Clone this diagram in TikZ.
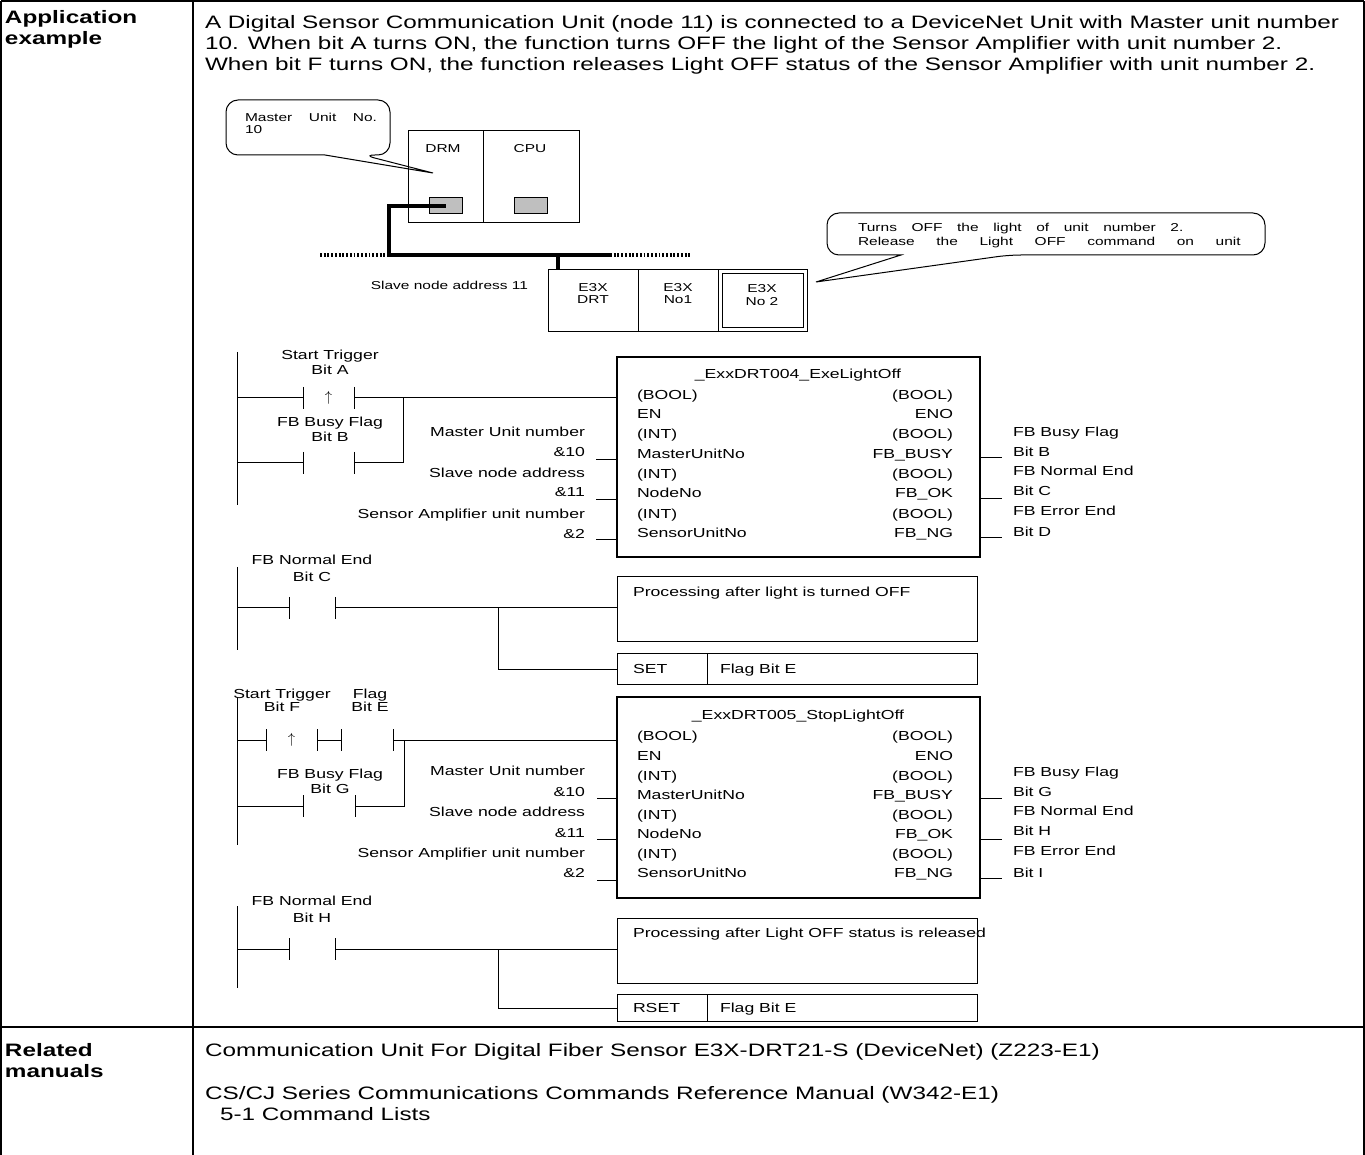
\documentclass[tikz,border=0pt]{standalone}
\usepackage{fontspec}
\setmainfont{Liberation Sans}
\newfontfamily\stf[FakeStretch=1.35]{Liberation Sans}
\usetikzlibrary{fit}
\newcommand\cbars[1]{\draw[wire] (#1.north west) -- (#1.south west) (#1.north east) -- (#1.south east);}
\begin{document}
\begin{tikzpicture}[x=0.75pt,y=-0.75pt,
  every node/.style={inner sep=0pt, outer sep=0pt},
  maintxt/.style={anchor=west, font=\stf\fontsize{13.5}{16}\selectfont, text height=9.7pt, text depth=0pt},
  headtxt/.style={anchor=west, font=\stf\bfseries\fontsize{13.5}{16}\selectfont, text height=9.7pt, text depth=0pt},
  dtxt/.style={font=\stf\fontsize{9.8}{12}\selectfont, text height=7pt, text depth=0pt},
  dl/.style={dtxt, anchor=west},
  dr/.style={dtxt, anchor=east},
  stxt/.style={font=\stf\fontsize{8.6}{10}\selectfont, text height=6.2pt, text depth=0pt},
  tbl/.style={line width=1.4pt},
  wire/.style={line width=0.75pt},
  fb/.style={draw, line width=1.9pt},
  plain/.style={draw, line width=0.75pt},
  cable/.style={line width=2.4pt},
  dotbus/.style={line width=2.4pt, dash pattern=on 1.4pt off 1.4pt},
  contact/.style={minimum width=#1*0.75pt, minimum height=16.5pt, font=\fontsize{11}{12}\selectfont},
  callout/.style={draw, line width=0.75pt},
]
\useasboundingbox (0,0) rectangle (1365,1155);

% ---------- table ----------
\draw[tbl] (1,1) -- (1364,1);
\draw[tbl] (1,1) -- (1,1155);
\draw[tbl] (1364,1) -- (1364,1155);
\draw[tbl] (193,1) -- (193,1155);
\draw[tbl] (1,1027) -- (1364,1027);

\node[headtxt] (h1) at (5,17) {Application};
\node[headtxt] (h2) at (5,38) {example};
\node[headtxt] (h3) at (5,1050) {Related};
\node[headtxt] (h4) at (5,1071) {manuals};

\node[maintxt] (t1) at (205,22) {A Digital Sensor Communication Unit (node 11) is connected to a DeviceNet Unit with Master unit number};
\node[maintxt] (t2) at (205,43) {10. When bit A turns ON, the function turns OFF the light of the Sensor Amplifier with unit number 2.};
\node[maintxt] (t3) at (205,64) {When bit F turns ON, the function releases Light OFF status of the Sensor Amplifier with unit number 2.};
\node[maintxt] (r1) at (205,1050) {Communication Unit For Digital Fiber Sensor E3X-DRT21-S (DeviceNet) (Z223-E1)};
\node[maintxt] (r2) at (205,1093) {CS/CJ Series Communications Commands Reference Manual (W342-E1)};
\node[maintxt] (r3) at (220,1114) {5-1 Command Lists};

% ---------- hardware ----------
\draw[callout] (363,155) -- (433,173) -- (325,155) [rounded corners=9] -- (226,155) -- (226,100) -- (390,100) -- (390,155) -- cycle;
\node[stxt, anchor=west] (c1a) at (245,117) {\makebox[99pt][s]{Master Unit No.}};
\node[stxt, anchor=west] (c1b) at (245,129) {10};

\node[plain, fit={(408,131) (483,223)}] (drm) {};
\node[plain, fit={(483,131) (579,223)}] (cpu) {};
\node[stxt] (drml) at (443,148) {DRM};
\node[stxt] (cpul) at (530,148) {CPU};
\node[plain, fill=black!25, fit={(429,198) (462,214)}] (drmport) {};
\node[plain, fill=black!25, fit={(514,198) (547,214)}] (cpuport) {};

\coordinate (bL) at (320,255);
\coordinate (bj) at (389,255);
\coordinate (bR) at (610,255);
\coordinate (bE) at (690,255);
\coordinate (drop) at (558,255);
\draw[cable] (drmport.center) -- (drmport.center -| bj) -- (bj) -- (bR);
\draw[dotbus] (bL) -- (bj);
\draw[dotbus] (bR) -- (bE);

\node[plain, fit={(548,270) (638,332)}] (drt) {};
\node[plain, fit={(638,270) (718,332)}] (no1) {};
\node[plain, fit={(718,270) (807,332)}] (no2) {};
\node[plain, fit={(722,274) (803,328)}] (no2i) {};
\draw[cable] (drop) -- (drop |- drt.north);
\node[stxt] (e1a) at (593,287) {E3X};
\node[stxt] (e1b) at (593,299) {DRT};
\node[stxt] (e2a) at (678,287) {E3X};
\node[stxt] (e2b) at (678,299) {No1};
\node[stxt] (e3a) at (762,288) {E3X};
\node[stxt] (e3b) at (762,301) {No 2};
\node[stxt, anchor=east] (sna) at (528,285) {Slave node address 11};

\draw[callout] (1009,255) -- (816,282) -- (901,255) [rounded corners=9] -- (827,255) -- (827,213) -- (1265,213) -- (1265,255) -- cycle;
\node[stxt, anchor=west] (c2a) at (858,227) {\makebox[244pt][s]{Turns OFF the light of unit number 2.}};
\node[stxt, anchor=west] (c2b) at (858,241) {\makebox[287pt][s]{Release the Light OFF command on unit}};

% ---------- ladder 1 ----------
\coordinate (r1t) at (237,352);
\coordinate (r1b) at (237,505);
\draw[wire] (r1t) -- (r1b);
\node[contact=51] (ca) at (328.5,398) {$\uparrow$};
\node[contact=51] (cb) at (328.5,463) {};
\cbars{ca}\cbars{cb}
\node[fb, fit={(617,357) (980,557)}] (fb1) {};
\coordinate (b1) at (403,398);
\draw[wire] (r1t |- ca) -- (ca.west);
\draw[wire] (ca.east) -- (ca.east -| fb1.west);
\draw[wire] (r1t |- cb) -- (cb.west);
\draw[wire] (cb.east) -- (b1 |- cb) -- (b1);
\node[dtxt] (la1) at (330,355) {Start Trigger};
\node[dtxt] (la2) at (330,370) {Bit A};
\node[dtxt] (lb1) at (330,422) {FB Busy Flag};
\node[dtxt] (lb2) at (330,437) {Bit B};

\node[dr] (i11) at (585,432) {Master Unit number};
\node[dr] (i12) at (585,452) {\&10};
\node[dr] (i13) at (585,473) {Slave node address};
\node[dr] (i14) at (585,492) {\&11};
\node[dr] (i15) at (585,514) {Sensor Amplifier unit number};
\node[dr] (i16) at (585,534) {\&2};
\coordinate (s11) at (596,460);
\coordinate (s12) at (596,500);
\coordinate (s13) at (596,540);
\draw[wire] (s11) -- (s11 -| fb1.west);
\draw[wire] (s12) -- (s12 -| fb1.west);
\draw[wire] (s13) -- (s13 -| fb1.west);

\node[dtxt] (f1t) at (798,374) {\_ExxDRT004\_ExeLightOff};
\node[dl] (f1l1) at (637,395) {(BOOL)};
\node[dl] (f1l2) at (637,414) {EN};
\node[dl] (f1l3) at (637,434) {(INT)};
\node[dl] (f1l4) at (637,454) {MasterUnitNo};
\node[dl] (f1l5) at (637,474) {(INT)};
\node[dl] (f1l6) at (637,493) {NodeNo};
\node[dl] (f1l7) at (637,514) {(INT)};
\node[dl] (f1l8) at (637,533) {SensorUnitNo};
\node[dr] (f1r1) at (953,395) {(BOOL)};
\node[dr] (f1r2) at (953,414) {ENO};
\node[dr] (f1r3) at (953,434) {(BOOL)};
\node[dr] (f1r4) at (953,454) {FB\_BUSY};
\node[dr] (f1r5) at (953,474) {(BOOL)};
\node[dr] (f1r6) at (953,493) {FB\_OK};
\node[dr] (f1r7) at (953,514) {(BOOL)};
\node[dr] (f1r8) at (953,533) {FB\_NG};

\coordinate (o11) at (1002,458);
\coordinate (o12) at (1002,499);
\coordinate (o13) at (1002,538);
\draw[wire] (o11 -| fb1.east) -- (o11);
\draw[wire] (o12 -| fb1.east) -- (o12);
\draw[wire] (o13 -| fb1.east) -- (o13);
\node[dl] (q11) at (1013,432) {FB Busy Flag};
\node[dl] (q12) at (1013,452) {Bit B};
\node[dl] (q13) at (1013,471) {FB Normal End};
\node[dl] (q14) at (1013,491) {Bit C};
\node[dl] (q15) at (1013,511) {FB Error End};
\node[dl] (q16) at (1013,532) {Bit D};

% ---------- ladder 2 (SET) ----------
\coordinate (r2t) at (237,567);
\coordinate (r2b) at (237,650);
\draw[wire] (r2t) -- (r2b);
\node[contact=46] (cc) at (312,608) {};
\cbars{cc}
\node[dtxt] (lc1) at (312,560) {FB Normal End};
\node[dtxt] (lc2) at (312,577) {Bit C};
\node[plain, fit={(617,577) (977,642)}] (p1) {};
\node[plain, fit={(617,653) (977,684)}] (set1) {};
\draw[wire] ([xshift=67.5pt]set1.north west) -- ([xshift=67.5pt]set1.south west);
\coordinate (b2) at (498,669);
\draw[wire] (r2t |- cc) -- (cc.west);
\draw[wire] (cc.east) -- (cc.east -| p1.west);
\draw[wire] (b2 |- cc) -- (b2) -- (b2 -| set1.west);
\node[dl] (p1t) at (633,592) {Processing after light is turned OFF};
\node[dl] (set1a) at (633,669) {SET};
\node[dl] (set1b) at (720,669) {Flag Bit E};

% ---------- ladder 3 ----------
\coordinate (r3t) at (237,698);
\coordinate (r3b) at (237,845);
\draw[wire] (r3t) -- (r3b);
\node[contact=51] (cf) at (291.5,740) {$\uparrow$};
\node[contact=52] (ce) at (367,740) {};
\node[contact=52] (cg) at (329,806) {};
\cbars{cf}\cbars{ce}\cbars{cg}
\node[fb, fit={(617,697) (980,898)}] (fb2) {};
\coordinate (b3) at (404,740);
\draw[wire] (r3t |- cf) -- (cf.west);
\draw[wire] (cf.east) -- (ce.west);
\draw[wire] (ce.east) -- (ce.east -| fb2.west);
\draw[wire] (r3t |- cg) -- (cg.west);
\draw[wire] (cg.east) -- (b3 |- cg) -- (b3);
\node[dtxt] (lf1) at (282,694) {Start Trigger};
\node[dtxt] (lf2) at (282,707) {Bit F};
\node[dtxt] (le1) at (370,694) {Flag};
\node[dtxt] (le2) at (370,707) {Bit E};
\node[dtxt] (lg1) at (330,774) {FB Busy Flag};
\node[dtxt] (lg2) at (330,789) {Bit G};

\node[dr] (i21) at (585,771) {Master Unit number};
\node[dr] (i22) at (585,792) {\&10};
\node[dr] (i23) at (585,812) {Slave node address};
\node[dr] (i24) at (585,833) {\&11};
\node[dr] (i25) at (585,853) {Sensor Amplifier unit number};
\node[dr] (i26) at (585,873) {\&2};
\coordinate (s21) at (597,798);
\coordinate (s22) at (597,839);
\coordinate (s23) at (597,880);
\draw[wire] (s21) -- (s21 -| fb2.west);
\draw[wire] (s22) -- (s22 -| fb2.west);
\draw[wire] (s23) -- (s23 -| fb2.west);

\node[dtxt] (f2t) at (798,715) {\_ExxDRT005\_StopLightOff};
\node[dl] (f2l1) at (637,736) {(BOOL)};
\node[dl] (f2l2) at (637,756) {EN};
\node[dl] (f2l3) at (637,776) {(INT)};
\node[dl] (f2l4) at (637,795) {MasterUnitNo};
\node[dl] (f2l5) at (637,815) {(INT)};
\node[dl] (f2l6) at (637,834) {NodeNo};
\node[dl] (f2l7) at (637,854) {(INT)};
\node[dl] (f2l8) at (637,873) {SensorUnitNo};
\node[dr] (f2r1) at (953,736) {(BOOL)};
\node[dr] (f2r2) at (953,756) {ENO};
\node[dr] (f2r3) at (953,776) {(BOOL)};
\node[dr] (f2r4) at (953,795) {FB\_BUSY};
\node[dr] (f2r5) at (953,815) {(BOOL)};
\node[dr] (f2r6) at (953,834) {FB\_OK};
\node[dr] (f2r7) at (953,854) {(BOOL)};
\node[dr] (f2r8) at (953,873) {FB\_NG};

\coordinate (o21) at (1002,798);
\coordinate (o22) at (1002,839);
\coordinate (o23) at (1002,878);
\draw[wire] (o21 -| fb2.east) -- (o21);
\draw[wire] (o22 -| fb2.east) -- (o22);
\draw[wire] (o23 -| fb2.east) -- (o23);
\node[dl] (q21) at (1013,772) {FB Busy Flag};
\node[dl] (q22) at (1013,792) {Bit G};
\node[dl] (q23) at (1013,811) {FB Normal End};
\node[dl] (q24) at (1013,831) {Bit H};
\node[dl] (q25) at (1013,851) {FB Error End};
\node[dl] (q26) at (1013,873) {Bit I};

% ---------- ladder 4 (RSET) ----------
\coordinate (r4t) at (237,906);
\coordinate (r4b) at (237,988);
\draw[wire] (r4t) -- (r4b);
\node[contact=46] (ch) at (312,949) {};
\cbars{ch}
\node[dtxt] (lh1) at (312,901) {FB Normal End};
\node[dtxt] (lh2) at (312,918) {Bit H};
\node[plain, fit={(617,918) (977,983)}] (p2) {};
\node[plain, fit={(617,994) (977,1021)}] (rset) {};
\draw[wire] ([xshift=67.5pt]rset.north west) -- ([xshift=67.5pt]rset.south west);
\coordinate (b4) at (498,1008);
\draw[wire] (r4t |- ch) -- (ch.west);
\draw[wire] (ch.east) -- (ch.east -| p2.west);
\draw[wire] (b4 |- ch) -- (b4) -- (b4 -| rset.west);
\node[dl] (p2t) at (633,933) {Processing after Light OFF status is released};
\node[dl] (rseta) at (633,1008) {RSET};
\node[dl] (rsetb) at (720,1008) {Flag Bit E};
\end{tikzpicture}
\end{document}
